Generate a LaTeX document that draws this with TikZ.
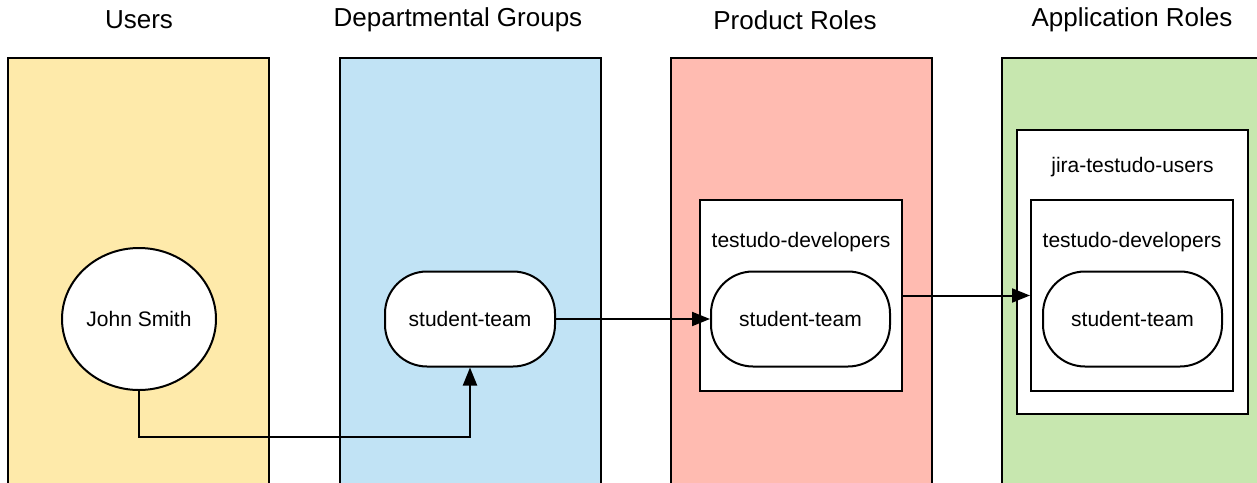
\documentclass[tikz,border=0pt]{standalone}
\usepackage{fontspec}
\setmainfont{Liberation Sans}
\usetikzlibrary{arrows.meta,shapes.geometric}

\definecolor{usersyellow}{RGB}{254,234,170}
\definecolor{deptblue}{RGB}{193,227,245}
\definecolor{productred}{RGB}{255,187,177}
\definecolor{appgreen}{RGB}{199,231,175}

\tikzset{
    lane/.style={draw, line width=1pt, minimum width=130.5pt, minimum height=221pt, inner sep=0pt},
    lanetitle/.style={font=\fontsize{13}{15}\selectfont},
    person/.style={ellipse, draw, fill=white, line width=1pt, inner sep=0pt, minimum width=77pt, minimum height=71pt, font=\fontsize{10.5}{12}\selectfont},
    team/.style={rectangle, rounded corners=21pt, draw, fill=white, line width=1pt, minimum width=85pt, minimum height=47.5pt, font=\fontsize{10.5}{12}\selectfont},
    rolebox/.style={draw, fill=white, line width=1pt, inner sep=0pt},
    rolelabel/.style={font=\fontsize{10.5}{12}\selectfont},
    flow/.style={line width=1pt, -{Triangle[length=9pt,width=7pt]}}
}

\begin{document}
\begin{tikzpicture}[x=0.5pt, y=-0.5pt]
                \clip (0,0) rectangle (1257,482);

                \node[lanetitle] (userstitle) at (139,20) {Users};
                \node[lanetitle] (depttitle) at (458,20) {Departmental Groups};
                \node[lanetitle] (producttitle) at (795,20) {Product Roles};
                \node[lanetitle] (apptitle) at (1132,20) {Application Roles};

                \node[lane, fill=usersyellow] (userslane) at (138.5,279) {};
                \node[lane, fill=deptblue] (deptlane) at (470,279) {};
                \node[lane, fill=productred] (productlane) at (801,279) {};
                \node[lane, fill=appgreen] (applane) at (1132,279) {};

                \node[rolebox, minimum width=101pt, minimum height=95.5pt] (proddev) at (801,295.5) {};
                \node[rolelabel] (proddevlabel) at (801,242) {testudo-developers};
                \node[rolebox, minimum width=115.5pt, minimum height=142pt] (appusers) at (1132.5,272) {};
                \node[rolelabel] (appuserslabel) at (1132.5,167) {jira-testudo-users};
                \node[rolebox, minimum width=101pt, minimum height=95.5pt] (appdev) at (1132,295.5) {};
                \node[rolelabel] (appdevlabel) at (1132,242) {testudo-developers};

                \node[person] (john) at (139,319) {John Smith};
                \node[team] (deptteam) at (470,319) {student-team};
                \node[team, minimum width=89.5pt] (prodteam) at (800.5,319) {student-team};
                \node[team, minimum width=89.5pt] (appteam) at (1132.5,319) {student-team};

                \coordinate (johnbend) at (139,437);

                \draw[flow] (john.south) -- (johnbend) -| (deptteam.south);
                \draw[flow] (deptteam) to (prodteam);
                \draw[flow] (proddev) to (appdev);
            \end{tikzpicture}
\end{document}
